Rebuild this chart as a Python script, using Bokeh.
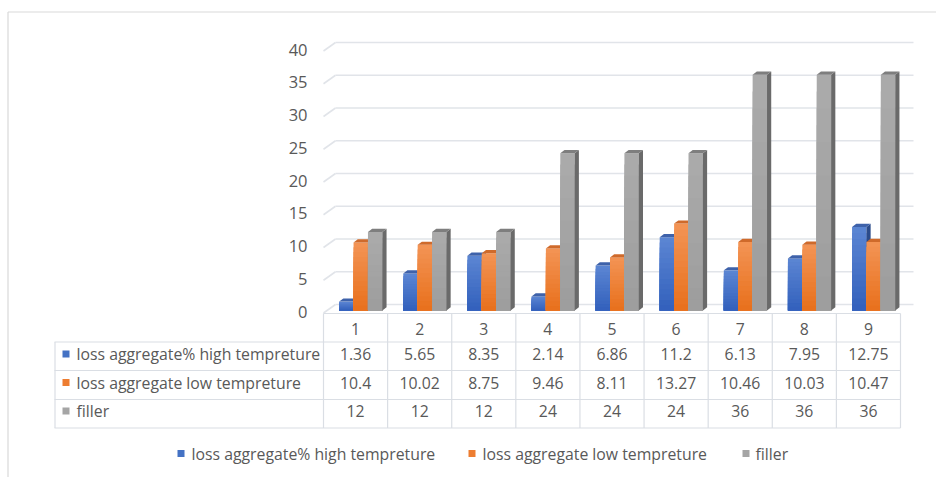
from bokeh.plotting import figure
from bokeh.models import Range1d
from bokeh.core.properties import value
from bokeh.embed import file_html
from bokeh.resources import INLINE

# ---------------- data ----------------
categories = ["1", "2", "3", "4", "5", "6", "7", "8", "9"]
high_temp = [1.36, 5.65, 8.35, 2.14, 6.86, 11.2, 6.13, 7.95, 12.75]
low_temp = [10.4, 10.02, 8.75, 9.46, 8.11, 13.27, 10.46, 10.03, 10.47]
filler = [12, 12, 12, 24, 24, 24, 36, 36, 36]
series_names = ["loss aggregate% high tempreture", "loss aggregate low tempreture", "filler"]
high_labels = ["1.36", "5.65", "8.35", "2.14", "6.86", "11.2", "6.13", "7.95", "12.75"]
low_labels = ["10.4", "10.02", "8.75", "9.46", "8.11", "13.27", "10.46", "10.03", "10.47"]
filler_labels = ["12", "12", "12", "24", "24", "24", "36", "36", "36"]
y_ticks = [0, 5, 10, 15, 20, 25, 30, 35, 40]

# ---------------- layout ----------------
W, H = 936, 477
KX = 577 / 9.0          # px per category
KY = 6.55               # px per value unit
X0 = 0.5 - 323 / KX
X1 = X0 + W / KX
Y1 = 310 / KY
Y0 = Y1 - H / KY


def px_x(px):
    return X0 + px / KX


def px_y(py):
    return (310 - py) / KY


FONT = value("Open Sans")
FS = value("15.8px")
TXT = "#595959"
GRID = "#e1e4e9"
TBL = "#dadee4"

p = figure(width=W, height=H, x_range=Range1d(X0, X1), y_range=Range1d(Y0, Y1),
           output_backend="svg", toolbar_location=None, min_border=0,
           x_axis_type=None, y_axis_type=None)
p.grid.visible = False
p.outline_line_color = None
p.background_fill_color = "white"

n = len(categories)
xs = list(range(1, n + 1))

# outer chart frame (top and left edges)
p.segment(x0=[px_x(7.5), px_x(7.5)], y0=[px_y(11.5), px_y(11.5)],
          x1=[X1 + 1, px_x(7.5)], y1=[px_y(11.5), Y0 - 1], line_color="#d9d9d9", line_width=1.2)

# back wall gridlines + side wall slants
back_l, back_r = px_x(335), px_x(913)
side_f = px_x(323)
dy_back = px_y(304)
dy_side = px_y(312.5)
p.segment(x0=[back_l] * len(y_ticks), x1=[back_r] * len(y_ticks),
          y0=[v + dy_back for v in y_ticks], y1=[v + dy_back for v in y_ticks],
          line_color=GRID, line_width=1.6)
p.segment(x0=[side_f] * len(y_ticks), x1=[back_l] * len(y_ticks),
          y0=[v + dy_side for v in y_ticks], y1=[v + dy_back for v in y_ticks],
          line_color=GRID, line_width=1.6)

# y tick labels
p.text(x=[px_x(307)] * len(y_ticks), y=[v + px_y(311) for v in y_ticks],
       text=[str(v) for v in y_ticks], text_align="right", text_baseline="middle",
       text_font=FONT, text_font_size=value("16.5px"), text_color=TXT)

# ---------------- 3D bars ----------------
BW = 14.4 / KX
offsets = [-9.2 / KX, 5.2 / KX, 19.6 / KX]
DX = 4.2 / KX
DY = 3.2 / KY
styles = [
    dict(top="#5c86d3", bot="#3260bc", side="#2b4b8a", cap="#3e62aa"),
    dict(top="#f39455", bot="#e8701c", side="#b2581c", cap="#cf6a2b"),
    dict(top="#ababab", bot="#9d9d9d", side="#6a6a6a", cap="#7e7e7e"),
]


def mix(c1, c2, t):
    a = [int(c1[i:i + 2], 16) for i in (1, 3, 5)]
    b = [int(c2[i:i + 2], 16) for i in (1, 3, 5)]
    return "#%02x%02x%02x" % tuple(round(a[k] + (b[k] - a[k]) * t) for k in range(3))


NB = 14
for s, vals in enumerate([high_temp, low_temp, filler]):
    st = styles[s]
    lefts = [x + offsets[s] - BW / 2 for x in xs]
    rights = [x + offsets[s] + BW / 2 for x in xs]
    # front face: overlapping gradient layers (tallest / lightest first)
    for k in range(NB, 0, -1):
        t = (k - 0.5) / NB
        p.quad(left=lefts, right=rights,
               bottom=[0] * n, top=[v * k / NB for v in vals],
               fill_color=mix(st["bot"], st["top"], t), line_color=None)
    # side face
    p.patches(xs=[[r, r + DX, r + DX, r] for r in rights],
              ys=[[0, DY, v + DY, v] for v in vals],
              fill_color=st["side"], line_color=None)
    # top face
    p.patches(xs=[[l, r, r + DX, l + DX] for l, r in zip(lefts, rights)],
              ys=[[v, v, v + DY, v + DY] for v in vals],
              fill_color=st["cap"], line_color=None)

# ---------------- data table ----------------
row_lines = [341.5, 370, 399, 427.5]
p.segment(x0=[0.5], x1=[n + 0.5], y0=[px_y(313)], y1=[px_y(313)], line_color=TBL, line_width=1.2)
p.segment(x0=[px_x(54)] * 4, x1=[n + 0.5] * 4, y0=[px_y(r) for r in row_lines],
          y1=[px_y(r) for r in row_lines], line_color=TBL, line_width=1.2)
p.segment(x0=[px_x(54.5)], x1=[px_x(54.5)], y0=[px_y(341.5)], y1=[px_y(427.5)],
          line_color=TBL, line_width=1.2)
bounds = [i + 0.5 for i in range(n + 1)]
p.segment(x0=bounds, x1=bounds, y0=[px_y(313)] * len(bounds), y1=[px_y(427.5)] * len(bounds),
          line_color=TBL, line_width=1.2)

header_y = px_y(328)
row_y = [px_y(353.5), px_y(382), px_y(410.5)]
p.text(x=xs, y=[header_y] * n, text=categories, text_align="center", text_baseline="middle",
       text_font=FONT, text_font_size=FS, text_color=TXT)
for ry, labels in zip(row_y, [high_labels, low_labels, filler_labels]):
    p.text(x=xs, y=[ry] * n, text=labels, text_align="center", text_baseline="middle",
           text_font=FONT, text_font_size=FS, text_color=TXT)

key_colors = ["#4472c4", "#ed7d31", "#a5a5a5"]
p.scatter(x=[px_x(65.5)] * 3, y=row_y, marker="square", size=7,
          fill_color=key_colors, line_color=None)
p.text(x=[px_x(76)] * 3, y=row_y, text=series_names, text_align="left", text_baseline="middle",
       text_font=FONT, text_font_size=FS, text_color=TXT)

# ---------------- legend ----------------
leg_y = px_y(453)
p.scatter(x=[px_x(180.5), px_x(471.5), px_x(745.5)], y=[leg_y] * 3, marker="square", size=7,
          fill_color=key_colors, line_color=None)
p.text(x=[px_x(191), px_x(482), px_x(755)], y=[leg_y] * 3, text=series_names,
       text_align="left", text_baseline="middle",
       text_font=FONT, text_font_size=FS, text_color=TXT)

open("out.html", "w").write(file_html(p, INLINE))
